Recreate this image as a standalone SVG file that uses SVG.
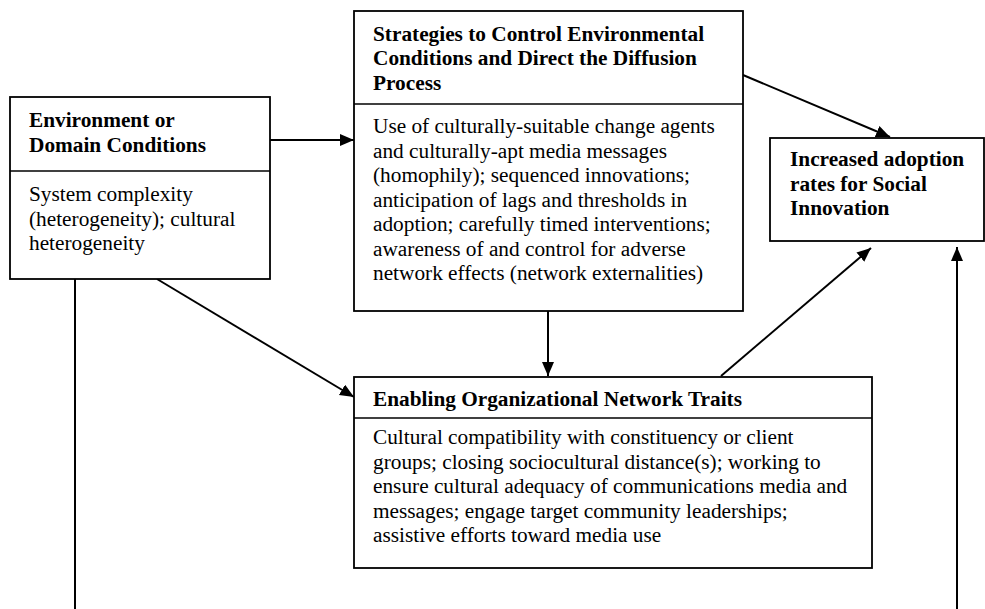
<svg xmlns="http://www.w3.org/2000/svg" width="985" height="609" viewBox="0 0 985 609">
<style>
.box{fill:#fff;stroke:#000;stroke-width:1.8}
.div{stroke:#000;stroke-width:1.6}
.t{font-family:"Liberation Serif","Times New Roman",Times,serif;font-size:21.3px;fill:#000}
.b{font-weight:bold}
.c{stroke:#000;stroke-width:2;fill:none}
</style>
<defs>
<marker id="ah" markerUnits="userSpaceOnUse" markerWidth="16" markerHeight="14" refX="14" refY="6" orient="auto">
<path d="M0,0 L14,6 L0,12 z" fill="#000"/>
</marker>
</defs>
<rect width="985" height="609" fill="#fff"/>
<g id="connectors">
<line class="c" x1="270" y1="140" x2="354" y2="140" marker-end="url(#ah)"/>
<line class="c" x1="743" y1="75" x2="890" y2="137" marker-end="url(#ah)"/>
<line class="c" x1="548" y1="311" x2="548" y2="376" marker-end="url(#ah)"/>
<line class="c" x1="157" y1="279" x2="354" y2="397" marker-end="url(#ah)"/>
<line class="c" x1="721" y1="376" x2="871" y2="248" marker-end="url(#ah)"/>
<line class="c" x1="957" y1="609" x2="957" y2="247" marker-end="url(#ah)"/>
<line class="c" x1="75" y1="279" x2="75" y2="609"/>
</g>
<g id="environment">
<rect class="box" x="10" y="97" width="260" height="182"/>
<line class="div" x1="10" y1="171" x2="270" y2="171"/>
<text class="t b" x="29" y="127">Environment or</text>
<text class="t b" x="29" y="152">Domain Conditions</text>
<text class="t" x="29" y="201">System complexity</text>
<text class="t" x="29" y="225.5">(heterogeneity); cultural</text>
<text class="t" x="29" y="250">heterogeneity</text>
</g>
<g id="strategies">
<rect class="box" x="354" y="11" width="389" height="300"/>
<line class="div" x1="354" y1="104" x2="743" y2="104"/>
<text class="t b" x="373" y="40.5">Strategies to Control Environmental</text>
<text class="t b" x="373" y="65">Conditions and Direct the Diffusion</text>
<text class="t b" x="373" y="89.5">Process</text>
<text class="t" x="373" y="133">Use of culturally-suitable change agents</text>
<text class="t" x="373" y="157.5">and culturally-apt media messages</text>
<text class="t" x="373" y="182">(homophily); sequenced innovations;</text>
<text class="t" x="373" y="206.5">anticipation of lags and thresholds in</text>
<text class="t" x="373" y="231">adoption; carefully timed interventions;</text>
<text class="t" x="373" y="255.5">awareness of and control for adverse</text>
<text class="t" x="373" y="280">network effects (network externalities)</text>
</g>
<g id="adoption">
<rect class="box" x="770" y="138" width="214" height="103"/>
<text class="t b" x="790" y="166">Increased adoption</text>
<text class="t b" x="790" y="190.5">rates for Social</text>
<text class="t b" x="790" y="215">Innovation</text>
</g>
<g id="enabling">
<rect class="box" x="354" y="377" width="518" height="191"/>
<line class="div" x1="354" y1="418" x2="872" y2="418"/>
<text class="t b" x="373" y="406">Enabling Organizational Network Traits</text>
<text class="t" x="373" y="444">Cultural compatibility with constituency or client</text>
<text class="t" x="373" y="468.5">groups; closing sociocultural distance(s); working to</text>
<text class="t" x="373" y="493">ensure cultural adequacy of communications media and</text>
<text class="t" x="373" y="517.5">messages; engage target community leaderships;</text>
<text class="t" x="373" y="542">assistive efforts toward media use</text>
</g>
</svg>
